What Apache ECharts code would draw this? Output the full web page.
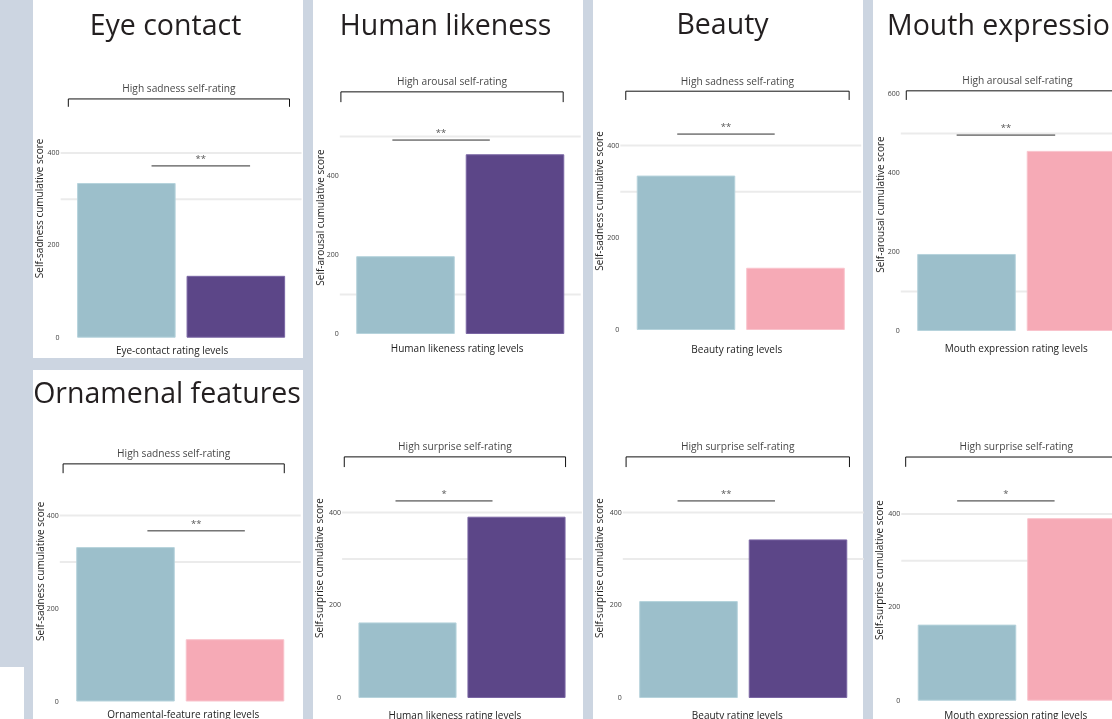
<!DOCTYPE html>
<html><head><meta charset="utf-8">
<script src="https://cdn.jsdelivr.net/npm/echarts@6/dist/echarts.min.js"></script>
<style>html,body{margin:0;padding:0;background:#ccd5e1;}#c{width:1112px;height:719px;}</style>
</head><body><div id="c"></div>
<script>
// ---------- data ----------
const panelTitles = ['Eye contact', 'Human likeness', 'Beauty', 'Mouth expression', 'Ornamenal features', '', '', ''];
const bracketLabels = ['High sadness self-rating', 'High arousal self-rating', 'High sadness self-rating', 'High arousal self-rating',
  'High sadness self-rating', 'High surprise self-rating', 'High surprise self-rating', 'High surprise self-rating'];
const yTitles = ['Self-sadness cumulative score', 'Self-arousal cumulative score', 'Self-sadness cumulative score', 'Self-arousal cumulative score',
  'Self-sadness cumulative score', 'Self-surprise cumulative score', 'Self-surprise cumulative score', 'Self-surprise cumulative score'];
const xTitles = ['Eye-contact rating levels', 'Human likeness rating levels', 'Beauty rating levels', 'Mouth expression rating levels',
  'Ornamental-feature rating levels', 'Human likeness rating levels', 'Beauty rating levels', 'Mouth expression rating levels'];
const categoryPositions = [0.5, 1.5];            // low level, high level
const lowValues = [335, 197, 335, 195, 332, 163, 209, 163];
const highValues = [134, 455, 135, 456, 134, 391, 342, 391];
const highColorKey = ['purple', 'purple', 'pink', 'pink', 'pink', 'purple', 'purple', 'pink'];
const sigMarks = ['**', '**', '**', '**', '**', '*', '**', '*'];
const sigLineY = [372, 491, 425, 496, 367, 425, 425, 428];
const sigLineX = [[0.73, 1.63], [0.38, 1.27], [0.42, 1.31], [0.41, 1.31], [0.70, 1.59], [0.39, 1.28], [0.40, 1.29], [0.41, 1.30]];
const bracketY = [517, 613, 518, 608, 511, 520, 520, 522];
const bracketTickY = [500, 587, 499, 585, 491, 498, 498, 501];
const bracketX = [[-0.03, 1.99], [-0.09, 1.94], [-0.05, 1.99], [-0.05, 1.98], [-0.07, 1.95], [-0.08, 1.95], [-0.07, 1.97], [-0.06, 1.96]];
const gridLineValues = [[300, 400], [100, 500], [300, 400], [100, 500], [300, 400], [300, 400], [300, 400], [300, 400]];
const gridLineX = [-0.1, 2.1];
const yMax = [560, 590, 560, 640, 560, 560, 560, 560];
const xRange = [-0.15, 2.15];
const tickInterval = 200;

// ---------- styling / layout ----------
const colors = { low: '#9cbfcb', purple: '#5c4688', pink: '#f6aab6' };
const borders = { low: '#b6d3dc', purple: '#7a66a4', pink: '#f9c3cc' };
const FONT = 'Open Sans';
// left = pixel of value 0 on x (left edge of the low band), band = pixel width of one level
const layout = [
  { left: 71.6, band: 109.5, y0: 337.7, ppu: 0.4618, yGap: 26, xGap: 8, xShift: -9 },
  { left: 350.75, band: 109.5, y0: 334, ppu: 0.395, yGap: 25, xGap: 10, xShift: -3 },
  { left: 631.25, band: 109.5, y0: 330, ppu: 0.461, yGap: 26, xGap: 15, xShift: -4 },
  { left: 911.75, band: 109.5, y0: 331, ppu: 0.395, yGap: 26, xGap: 13, xShift: -5 },
  { left: 70.75, band: 109.5, y0: 701.5, ppu: 0.465, yGap: 25, xGap: 9, xShift: 3 },
  { left: 353, band: 109, y0: 698, ppu: 0.4637, yGap: 28, xGap: 13, xShift: -7 },
  { left: 633.75, band: 109.5, y0: 698, ppu: 0.4637, yGap: 29, xGap: 13, xShift: -6 },
  { left: 912.25, band: 109.5, y0: 700.7, ppu: 0.4668, yGap: 27, xGap: 10, xShift: -6 }
];
const panels = [[33, 0, 270, 358], [313, 0, 270, 719], [593, 0, 270, 719], [873, 0, 239, 719], [33, 370, 270, 349], [0, 667, 24, 52]];
const titlePos = [[165.5, 27, 'center'], [445.5, 27, 'center'], [722.5, 26, 'center'], [887, 27, 'left'], [167, 395, 'center']];

const grid = [], xAxis = [], yAxis = [], series = [];
layout.forEach((L, i) => {
  const h = yMax[i] * L.ppu;
  const gLeft = L.left + xRange[0] * L.band;
  const gWidth = (xRange[1] - xRange[0]) * L.band;
  const inset = L.left - gLeft;
  grid.push({ left: gLeft, width: gWidth, top: L.y0 - h, height: h, containLabel: false, outerBoundsMode: 'none' });
  const pad = L.xShift < 0 ? [0, -2 * L.xShift, 0, 0] : [0, 0, 0, 2 * L.xShift];
  xAxis.push({
    type: 'value', gridIndex: i, min: xRange[0], max: xRange[1],
    axisLine: { show: false }, axisTick: { show: false }, axisLabel: { show: false }, splitLine: { show: false },
    name: xTitles[i], nameLocation: 'middle', nameGap: L.xGap, nameMoveOverlap: false,
    nameTextStyle: { fontFamily: FONT, fontSize: 10, color: '#222', padding: pad }
  });
  yAxis.push({
    type: 'value', gridIndex: i, min: 0, max: yMax[i], interval: tickInterval,
    axisLine: { show: false }, axisTick: { show: false }, splitLine: { show: false },
    axisLabel: { fontFamily: FONT, fontSize: 7, color: '#3d3d3d', margin: 12 - inset,
      formatter: v => (v % tickInterval === 0 ? String(v) : '') },
    name: yTitles[i], nameLocation: 'middle', nameRotate: 90, nameGap: L.yGap - inset, nameMoveOverlap: false,
    nameTextStyle: { fontFamily: FONT, fontSize: 10, color: '#222' }
  });
  // light grid lines
  gridLineValues[i].forEach(g => {
    series.push({ type: 'line', xAxisIndex: i, yAxisIndex: i, data: [[gridLineX[0], g], [gridLineX[1], g]], symbol: 'none', clip: false,
      silent: true, z: 1, lineStyle: { color: '#ebebeb', width: 2 } });
  });
  // bars
  const hk = highColorKey[i];
  series.push({
    type: 'bar', xAxisIndex: i, yAxisIndex: i, barCategoryGap: '10%', z: 3, silent: true, clip: false,
    data: [
      { value: [categoryPositions[0], lowValues[i]], itemStyle: { color: colors.low, borderColor: borders.low, borderWidth: 1 } },
      { value: [categoryPositions[1], highValues[i]], itemStyle: { color: colors[hk], borderColor: borders[hk], borderWidth: 1 } }
    ]
  });
  // bracket
  const [b0, b1] = bracketX[i];
  series.push({ type: 'line', xAxisIndex: i, yAxisIndex: i, symbol: 'none', clip: false, silent: true, z: 4,
    data: [[b0, bracketTickY[i]], [b0, bracketY[i]], [b1, bracketY[i]], [b1, bracketTickY[i]]],
    lineStyle: { color: '#111', width: 1 } });
  // significance line
  const [s0, s1] = sigLineX[i];
  series.push({ type: 'line', xAxisIndex: i, yAxisIndex: i, symbol: 'none', clip: false, silent: true, z: 4,
    data: [[s0, sigLineY[i]], [s1, sigLineY[i]]], lineStyle: { color: '#2e2e2e', width: 1 } });
  // labels
  series.push({ type: 'scatter', xAxisIndex: i, yAxisIndex: i, clip: false, silent: true, z: 5, symbolSize: 1,
    itemStyle: { color: 'rgba(0,0,0,0)' },
    data: [
      { value: [(b0 + b1) / 2, bracketY[i]], label: { show: true, position: 'top', distance: 4, formatter: bracketLabels[i],
        fontFamily: FONT, fontSize: 10.2, color: '#111' } },
      { value: [(s0 + s1) / 2, sigLineY[i]], label: { show: true, position: 'top', distance: 1, formatter: sigMarks[i],
        fontFamily: FONT, fontSize: 9.5, color: '#2a2a2a' } }
    ] });
});

const graphic = [];
panels.forEach(p => graphic.push({ type: 'rect', shape: { x: p[0], y: p[1], width: p[2], height: p[3] }, style: { fill: '#ffffff' }, z: -10, silent: true }));
panelTitles.forEach((t, i) => {
  if (!t) return;
  const [x, y, a] = titlePos[i];
  graphic.push({ type: 'text', x: x, y: y, z: 10, silent: true,
    style: { text: t, font: '28.5px "Open Sans"', fill: '#231f20', align: a, verticalAlign: 'middle' } });
});

const chart = echarts.init(document.getElementById('c'), null, { renderer: 'canvas' });
chart.setOption({ backgroundColor: '#ccd5e1', animation: false, grid, xAxis, yAxis, series, graphic });
</script></body></html>
